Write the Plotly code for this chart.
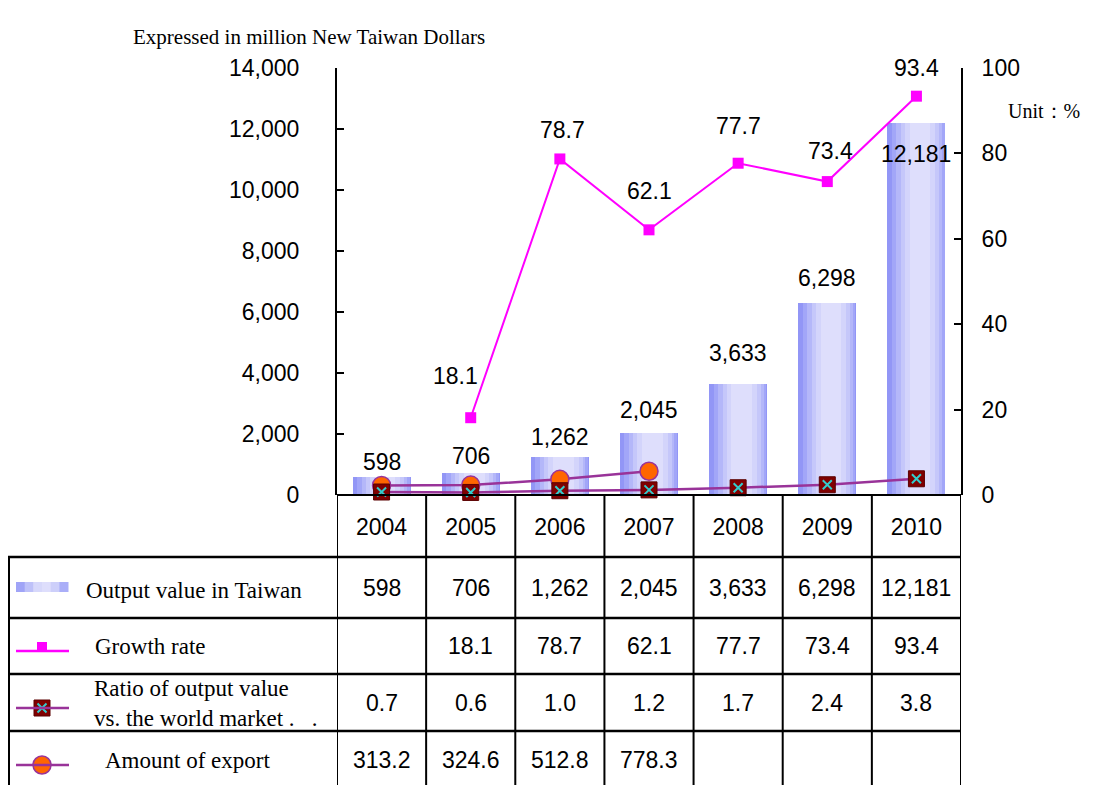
import plotly.graph_objects as go

# ---------------- data ----------------
years = ["2004", "2005", "2006", "2007", "2008", "2009", "2010"]
output_value = [598, 706, 1262, 2045, 3633, 6298, 12181]
growth_rate = [None, 18.1, 78.7, 62.1, 77.7, 73.4, 93.4]
ratio_world = [0.7, 0.6, 1.0, 1.2, 1.7, 2.4, 3.8]
export_amount = [313.2, 324.6, 512.8, 778.3, None, None, None]

row_labels = ["Output value in Taiwan", "Growth rate",
              "Ratio of output value<br>vs. the world market .   .", "Amount of export"]
left_ticks = [0, 2000, 4000, 6000, 8000, 10000, 12000, 14000]
right_ticks = [0, 20, 40, 60, 80, 100]

# ---------------- geometry helpers ----------------
W, H = 1094, 785
OX, OY = 8, 8          # page body margin of the browser
def py(y):  # reference pixel y -> paper
    return (H - (y - OY)) / H
def px(x):
    return (x - OX) / W

NUM_FONT = "Liberation Sans, Arial, sans-serif"
SERIF = "Liberation Serif, Times New Roman, serif"
NUMSIZE = 23

fig = go.Figure()

# gradient bars built from overlaid layers
layers = [
    (0.65, 0.00, "rgb(146,150,246)"),
    (0.59, 0.02, "rgb(162,166,248)"),
    (0.51, 0.03, "rgb(180,183,249)"),
    (0.43, 0.04, "rgb(197,199,250)"),
    (0.34, 0.04, "rgb(211,212,251)"),
    (0.23, 0.04, "rgb(222,222,252)"),
]
for i, (w, s, c) in enumerate(layers):
    fig.add_trace(go.Bar(x=years, y=output_value, width=w, offset=-w / 2 + s,
                         marker=dict(color=c, line=dict(width=0)),
                         showlegend=False, hoverinfo="skip"))

# ratio line (right axis)
fig.add_trace(go.Scatter(x=years, y=ratio_world, yaxis="y2", mode="lines+markers",
                         line=dict(color="#993399", width=2.5),
                         marker=dict(symbol="square", size=16, color="#800000",
                                     line=dict(color="#5a0000", width=1)),
                         showlegend=False, cliponaxis=False))
fig.add_trace(go.Scatter(x=years, y=ratio_world, yaxis="y2", mode="markers",
                         marker=dict(symbol="x-thin", size=9,
                                     line=dict(color="#33cccc", width=2)),
                         showlegend=False, cliponaxis=False, hoverinfo="skip"))
# export line (left axis)
fig.add_trace(go.Scatter(x=years, y=export_amount, mode="lines+markers",
                         line=dict(color="#993399", width=2.5),
                         marker=dict(symbol="circle", size=18, color="#ff6600",
                                     line=dict(color="#993399", width=1.5)),
                         showlegend=False, cliponaxis=False))
# growth line (right axis)
fig.add_trace(go.Scatter(x=years, y=growth_rate, yaxis="y2", mode="lines+markers",
                         line=dict(color="#ff00ff", width=2),
                         marker=dict(symbol="square", size=11, color="#ff00ff"),
                         showlegend=False, cliponaxis=False, connectgaps=False))

annotations = []
numfont = dict(family=NUM_FONT, size=NUMSIZE, color="black")
# bar value labels
bar_shift = [15, 17, 20, 23, 31, 25, -31]
for i, v in enumerate(output_value):
    annotations.append(dict(x=i, y=v, xref="x", yref="y", text=f"{v:,}",
                            showarrow=False, yshift=bar_shift[i], font=numfont))
# growth labels
yshifts = [0, 42, 29, 39, 37, 31, 28]
xshifts = [0, -15, 3, 0, 0, 3, 0]
for i, g in enumerate(growth_rate):
    if g is None:
        continue
    annotations.append(dict(x=i, y=g, xref="x", yref="y2", text=f"{g:.1f}",
                            showarrow=False, yshift=yshifts[i], xshift=xshifts[i],
                            font=numfont))

# ---------------- table ----------------
row_bounds = [495, 557, 618, 674, 731, 790]
row_centers = [(row_bounds[k] + row_bounds[k + 1]) / 2 for k in range(5)]
row_centers[4] = 760
table_rows = [
    [f"{v:,}" for v in output_value],
    ["" if v is None else f"{v:.1f}" for v in growth_rate],
    [f"{v:.1f}" for v in ratio_world],
    ["" if v is None else f"{v:.1f}" for v in export_amount],
]
for r, vals in enumerate(table_rows):
    for i, t in enumerate(vals):
        if t:
            annotations.append(dict(x=i, y=py(row_centers[r + 1]), xref="x", yref="paper",
                                    text=t, showarrow=False, yanchor="middle", font=numfont))
label_x = [84, 93, 92, 103]
label_dy = [3, 0, 1, 0]
for r, lab in enumerate(row_labels):
    annotations.append(dict(x=px(label_x[r]), y=py(row_centers[r + 1] + label_dy[r]),
                            xref="paper", yref="paper", text=lab, showarrow=False,
                            xanchor="left", yanchor="middle", align="left",
                            font=dict(family=SERIF, size=23, color="black")))

annotations.append(dict(x=px(131), y=py(37), xref="paper", yref="paper",
                        text="Expressed in million New Taiwan Dollars", showarrow=False,
                        xanchor="left", yanchor="middle",
                        font=dict(family=SERIF, size=21, color="black")))
annotations.append(dict(x=px(1006), y=py(111), xref="paper", yref="paper",
                        text="Unit：%", showarrow=False, xanchor="left", yanchor="middle",
                        font=dict(family=SERIF, size=20, color="black")))

shapes = []
LC = "black"
# horizontal lines
shapes.append(dict(type="line", xref="x", yref="paper", x0=-0.5, x1=6.5,
                   y0=py(495), y1=py(495), line=dict(color=LC, width=2)))
for yb in row_bounds[1:5]:
    shapes.append(dict(type="line", xref="paper", yref="paper", x0=px(8), x1=px(961),
                       y0=py(yb), y1=py(yb), line=dict(color=LC, width=2.5)))
# vertical lines
shapes.append(dict(type="line", xref="paper", yref="paper", x0=px(9), x1=px(9),
                   y0=py(557), y1=-0.05, line=dict(color=LC, width=2)))
for k in range(8):
    shapes.append(dict(type="line", xref="x", yref="paper", x0=k - 0.5, x1=k - 0.5,
                       y0=py(495), y1=-0.05, line=dict(color=LC, width=2)))

# legend glyph: gradient swatch
sw_cols = ["rgb(160,164,247)", "rgb(190,193,249)", "rgb(215,216,251)",
           "rgb(222,222,252)", "rgb(205,207,250)", "rgb(170,174,248)"]
x0 = 16
seg = 52 / len(sw_cols)
for k, c in enumerate(sw_cols):
    shapes.append(dict(type="rect", xref="paper", yref="paper",
                       x0=px(x0 + k * seg), x1=px(x0 + (k + 1) * seg + 0.5),
                       y0=py(592), y1=py(582), fillcolor=c, line=dict(width=0)))
# legend lines
for yy, col in [(651, "#ff00ff"), (708, "#993399"), (765, "#993399")]:
    shapes.append(dict(type="line", xref="paper", yref="paper", x0=px(16), x1=px(69),
                       y0=py(yy), y1=py(yy), line=dict(color=col, width=2.5)))

# legend markers on a helper axis covering the whole page (reference pixel coords)
glyph_traces = [
    go.Scatter(x=[42], y=[647], mode="markers",
               marker=dict(symbol="square", size=10, color="#ff00ff")),
    go.Scatter(x=[42], y=[708], mode="markers",
               marker=dict(symbol="square", size=16, color="#800000",
                           line=dict(color="#5a0000", width=1))),
    go.Scatter(x=[42], y=[708], mode="markers",
               marker=dict(symbol="x-thin", size=9, line=dict(color="#33cccc", width=2))),
    go.Scatter(x=[42], y=[765], mode="markers",
               marker=dict(symbol="circle", size=18, color="#ff6600",
                           line=dict(color="#993399", width=1.5))),
]
for t in glyph_traces:
    t.update(xaxis="x3", yaxis="y3", showlegend=False, hoverinfo="skip", cliponaxis=False)
    fig.add_trace(t)

fig.update_layout(
    width=W, height=H, autosize=False,
    margin=dict(l=0, r=0, t=0, b=0, autoexpand=False),
    paper_bgcolor="white", plot_bgcolor="rgba(0,0,0,0)",
    barmode="overlay", bargap=0,
    showlegend=False,
    xaxis=dict(domain=[px(337), px(961)], type="category", range=[-0.5, 6.5],
               showgrid=False, showline=False, ticks="", zeroline=False, automargin=False,
               tickfont=numfont, ticklabelstandoff=16),
    yaxis=dict(domain=[py(495), py(68)], range=[0, 14000], tickvals=left_ticks,
               tickformat=",", showgrid=False, zeroline=False, showline=True,
               linecolor="black", linewidth=2, ticks="inside", ticklen=7, tickwidth=2,
               tickcolor="black", ticklabelstandoff=31, automargin=False,
               tickfont=numfont),
    yaxis2=dict(overlaying="y", side="right", anchor="x", range=[0, 100], tickvals=right_ticks,
                showgrid=False, zeroline=False, showline=True, linecolor="black",
                linewidth=2, ticks="inside", ticklen=7, tickwidth=2, tickcolor="black",
                ticklabelstandoff=14, automargin=False, tickfont=numfont),
    xaxis3=dict(domain=[0, 1], range=[OX, W + OX], visible=False, fixedrange=True,
                automargin=False, anchor="y3"),
    yaxis3=dict(domain=[0, 1], range=[H + OY, OY], visible=False, fixedrange=True,
                anchor="x3", automargin=False),
    annotations=annotations,
    shapes=shapes,
)

fig.write_html("out.html")
